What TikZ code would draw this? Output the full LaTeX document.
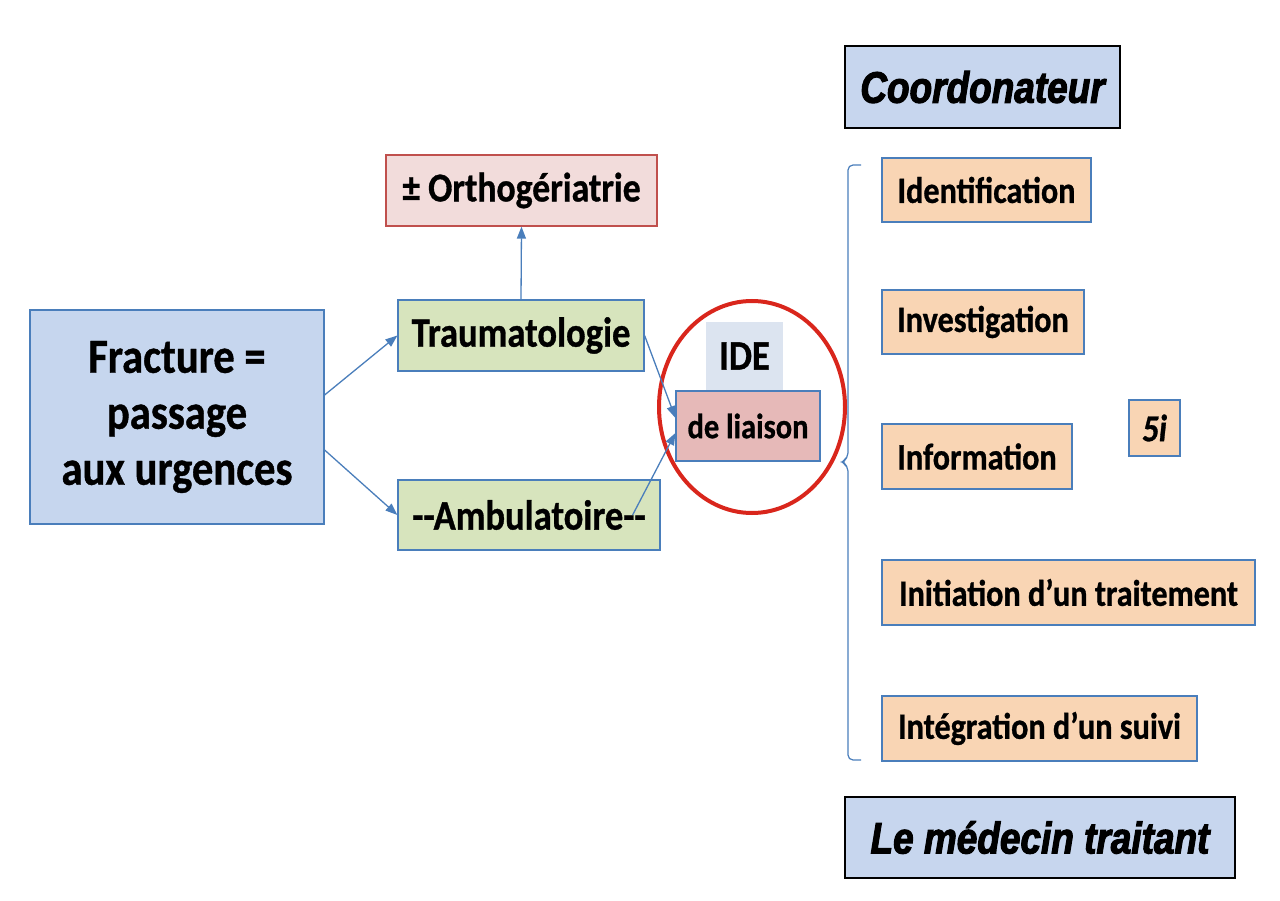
\documentclass[tikz,border=0pt]{standalone}
\usepackage{fontspec}
\setmainfont{Carlito}[FakeStretch=0.87,BoldFeatures={FakeBold=0.8},BoldItalicFeatures={FakeBold=0.8}]
\newfontfamily\blackfont{Liberation Sans}[FakeStretch=0.84,BoldItalicFeatures={FakeBold=2.5}]
\usetikzlibrary{arrows.meta,shapes.geometric}
\definecolor{lineblue}{RGB}{74,126,187}
\definecolor{fracfill}{RGB}{198,214,238}
\definecolor{greenfill}{RGB}{215,228,189}
\definecolor{orthofill}{RGB}{242,220,219}
\definecolor{ortholine}{RGB}{192,80,77}
\definecolor{idefill}{RGB}{220,228,240}
\definecolor{liaisonfill}{RGB}{230,185,184}
\definecolor{stepfill}{RGB}{249,213,180}
\definecolor{headfill}{RGB}{199,214,238}
\definecolor{ringred}{RGB}{217,38,28}

\begin{document}
\begin{tikzpicture}[x=1pt,y=-1pt,
  box/.style={draw=lineblue,line width=1.2pt,inner sep=0pt,align=center},
  greenbox/.style={box,fill=greenfill,minimum height=71pt,font=\bfseries\fontsize{42}{46}\selectfont},
  stepbox/.style={box,fill=stepfill,minimum height=65pt,font=\bfseries\fontsize{37}{42}\selectfont},
  headbox/.style={draw=black,line width=2pt,fill=headfill,inner sep=0pt,font=\blackfont\bfseries\itshape\fontsize{44}{50}\selectfont},
  arr/.style={draw=lineblue,line width=1.3pt,-{Triangle[length=12pt,width=9pt]}}]
\useasboundingbox (0,0) rectangle (1280,901);
\node[box,fill=fracfill,minimum width=294pt,minimum height=214pt,font=\bfseries\fontsize{49}{56}\selectfont] (fracture) at (177,417) {Fracture =\\passage\\aux urgences};
\node[greenbox,minimum width=246pt] (trauma) at (521,335.5) {Traumatologie};
\node[greenbox,minimum width=262pt,minimum height=70pt] (ambu) at (529,515) {-{}-Ambulatoire-{}-};
\node[box,draw=ortholine,fill=orthofill,minimum width=271pt,minimum height=71pt,font=\bfseries\fontsize{41}{46}\selectfont] (ortho) at (521.5,190.5) {± Orthogériatrie};
\node[fill=idefill,inner sep=0pt,minimum width=77pt,minimum height=68pt,font=\bfseries\fontsize{42}{46}\selectfont] (ide) at (744.5,356) {IDE};
\node[box,fill=liaisonfill,minimum width=144pt,minimum height=70pt,font=\bfseries\fontsize{35}{40}\selectfont] (liaison) at (748,426) {de liaison};
\node[draw=ringred,line width=4pt,ellipse,minimum width=186pt,minimum height=212pt] (ring) at (752,407) {};
\draw[arr] ([yshift=22pt]fracture.east) -- (trauma.west);
\draw[arr] ([yshift=-33pt]fracture.east) -- (ambu.west);
\draw[arr] (trauma.north) -- (ortho.south);
\draw[arr] (trauma.east) -- ([yshift=8pt]liaison.west);
\draw[arr] ([xshift=-28pt]ambu.east) -- ([yshift=-7pt]liaison.west);
\node[headbox,minimum width=275pt,minimum height=82pt] (coord) at (982.5,87) {Coordonateur};
\node[headbox,minimum width=390pt,minimum height=81pt] (medecin) at (1040,837.5) {Le médecin traitant};
\node[stepbox,minimum width=209pt,minimum height=64pt] (ident) at (986.5,190) {Identification};
\node[stepbox,minimum width=202pt,minimum height=64pt] (invest) at (983,322) {Investigation};
\node[stepbox,minimum width=190pt] (inform) at (977,456.5) {Information};
\node[stepbox,minimum width=373pt] (initi) at (1068.5,592.5) {Initiation d’un traitement};
\node[stepbox,minimum width=315pt] (integ) at (1039.5,728.5) {Intégration d’un suivi};
\node[box,fill=stepfill,minimum width=51pt,minimum height=56pt,font=\bfseries\itshape\fontsize{38}{42}\selectfont] (five) at (1154.5,428) {5i};
\draw[lineblue,line width=1.2pt,rounded corners=5pt] (861,165) -- (848,165) -- (848,458) -- (841,462) -- (848,466) -- (848,760) -- (861,760);
\end{tikzpicture}
\end{document}
